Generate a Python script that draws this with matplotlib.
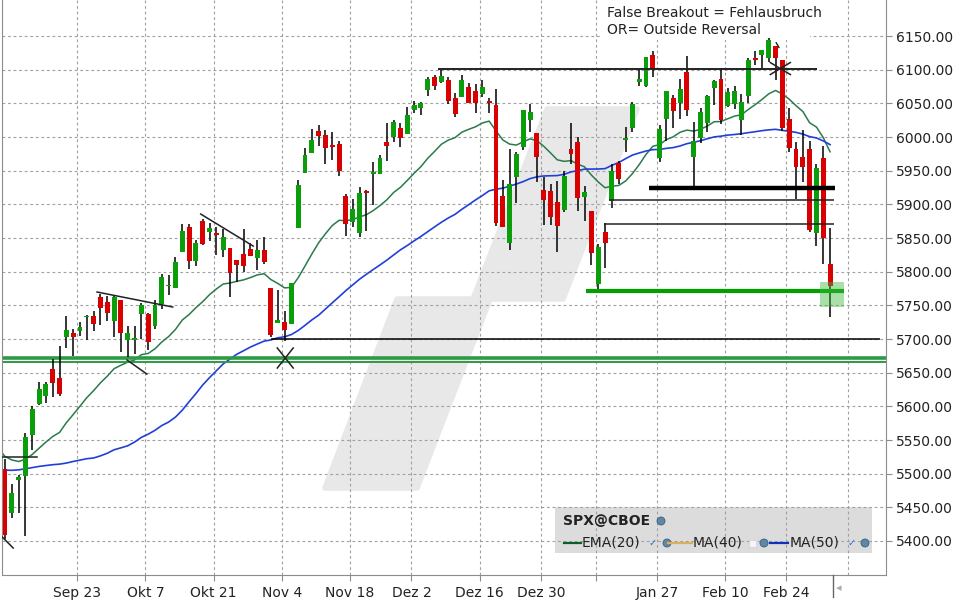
import numpy as np
import pandas as pd
import matplotlib
matplotlib.use("Agg")
import matplotlib.pyplot as plt
from matplotlib.patches import Rectangle, Polygon, Ellipse

# SPX daily candles, 6 Sep 2024 - 4 Mar 2025
dates = ["2024-09-06", "2024-09-09", "2024-09-10", "2024-09-11", "2024-09-12", "2024-09-13",
         "2024-09-16", "2024-09-17", "2024-09-18", "2024-09-19", "2024-09-20",
         "2024-09-23", "2024-09-24", "2024-09-25", "2024-09-26", "2024-09-27", "2024-09-30",
         "2024-10-01", "2024-10-02", "2024-10-03", "2024-10-04",
         "2024-10-07", "2024-10-08", "2024-10-09", "2024-10-10", "2024-10-11",
         "2024-10-14", "2024-10-15", "2024-10-16", "2024-10-17", "2024-10-18",
         "2024-10-21", "2024-10-22", "2024-10-23", "2024-10-24", "2024-10-25",
         "2024-10-28", "2024-10-29", "2024-10-30", "2024-10-31", "2024-11-01",
         "2024-11-04", "2024-11-05", "2024-11-06", "2024-11-07", "2024-11-08",
         "2024-11-11", "2024-11-12", "2024-11-13", "2024-11-14", "2024-11-15",
         "2024-11-18", "2024-11-19", "2024-11-20", "2024-11-21", "2024-11-22",
         "2024-11-25", "2024-11-26", "2024-11-27", "2024-11-29",
         "2024-12-02", "2024-12-03", "2024-12-04", "2024-12-05", "2024-12-06",
         "2024-12-09", "2024-12-10", "2024-12-11", "2024-12-12", "2024-12-13",
         "2024-12-16", "2024-12-17", "2024-12-18", "2024-12-19", "2024-12-20",
         "2024-12-23", "2024-12-24", "2024-12-26", "2024-12-27", "2024-12-30", "2024-12-31",
         "2025-01-02", "2025-01-03", "2025-01-06", "2025-01-07", "2025-01-08", "2025-01-10",
         "2025-01-13", "2025-01-14", "2025-01-15", "2025-01-16", "2025-01-17",
         "2025-01-21", "2025-01-22", "2025-01-23", "2025-01-24",
         "2025-01-27", "2025-01-28", "2025-01-29", "2025-01-30", "2025-01-31",
         "2025-02-03", "2025-02-04", "2025-02-05", "2025-02-06", "2025-02-07",
         "2025-02-10", "2025-02-11", "2025-02-12", "2025-02-13", "2025-02-14",
         "2025-02-18", "2025-02-19", "2025-02-20", "2025-02-21",
         "2025-02-24", "2025-02-25", "2025-02-26", "2025-02-27", "2025-02-28",
         "2025-03-03", "2025-03-04"]

opens = [5507.33, 5442.07, 5490.51, 5496.42, 5557.48, 5603.34, 5615.21, 5655.51, 5641.68, 5702.63, 5709.59,
         5711.90, 5732.30, 5733.65, 5762.22, 5755.36, 5726.52, 5757.73, 5698.19, 5698.56, 5737.80,
         5737.80, 5719.14, 5751.80, 5778.36, 5775.09, 5829.81, 5866.74, 5816.58, 5875.62, 5859.43,
         5857.82, 5832.70, 5834.50, 5817.80, 5826.75, 5833.93, 5819.68, 5832.65, 5775.34, 5723.22,
         5725.15, 5722.43, 5864.89, 5947.21, 5976.76, 6008.86, 6003.60, 5985.75, 5989.68, 5912.79,
         5874.17, 5857.30, 5917.26, 5944.36, 5944.36, 5992.28, 6000.03, 6014.11, 6003.98,
         6040.11, 6042.97, 6069.39, 6089.03, 6081.38, 6083.99, 6057.59, 6060.15, 6074.29, 6068.17,
         6063.79, 6052.55, 6047.65, 5912.71, 5842.00, 5940.25, 5984.63, 6024.97, 6006.17, 5920.67, 5919.74,
         5903.26, 5891.07, 5982.81, 5993.26, 5910.66, 5890.66, 5782.35, 5859.44, 5905.21, 5961.98, 5995.31,
         6014.12, 6081.39, 6076.32, 6121.43, 5969.04, 6026.97, 6057.70, 6050.75, 6096.79,
         5969.65, 5998.14, 6020.45, 6072.22, 6086.33, 6046.40, 6049.32, 6025.08, 6060.59, 6115.52,
         6121.60, 6117.76, 6134.50, 6114.82, 6026.69, 5982.73, 5970.87, 5981.88, 5856.74,
         5968.33, 5811.98]

highs = [5522.47, 5484.20, 5497.91, 5560.41, 5600.71, 5636.27, 5636.05, 5670.81, 5689.75, 5733.57, 5715.14,
         5725.36, 5735.32, 5741.03, 5767.37, 5763.78, 5765.14, 5757.73, 5719.14, 5718.78, 5753.00,
         5739.34, 5757.60, 5796.80, 5795.03, 5822.13, 5871.41, 5870.36, 5846.52, 5878.46, 5872.17,
         5866.92, 5863.04, 5834.85, 5817.80, 5862.82, 5842.92, 5847.19, 5850.94, 5775.34, 5772.88,
         5741.43, 5783.44, 5936.14, 5983.84, 6012.45, 6017.31, 6009.92, 6008.19, 5993.88, 5915.25,
         5908.12, 5925.58, 5920.67, 5963.14, 5972.90, 6020.75, 6025.42, 6020.16, 6044.17,
         6053.58, 6052.07, 6089.84, 6092.35, 6099.97, 6088.51, 6065.40, 6092.59, 6079.68, 6078.58,
         6085.19, 6057.68, 6070.67, 5935.52, 5982.06, 5978.25, 6040.10, 6049.75, 6006.17, 5940.79, 5929.74,
         5935.09, 5949.34, 6021.04, 6000.68, 5927.89, 5890.66, 5841.54, 5871.92, 5960.61, 5964.69, 6014.96,
         6051.51, 6100.81, 6118.73, 6128.18, 6017.17, 6069.07, 6062.83, 6086.64, 6120.91,
         6022.13, 6042.48, 6062.86, 6084.03, 6101.28, 6073.38, 6076.28, 6063.85, 6116.91, 6127.47,
         6129.63, 6147.43, 6134.50, 6114.82, 6043.65, 5992.65, 6009.82, 5993.69, 5959.40,
         5986.09, 5865.08]

lows = [5402.62, 5434.49, 5441.72, 5406.96, 5535.50, 5601.65, 5604.53, 5614.05, 5615.08, 5686.42, 5674.49,
        5704.22, 5698.99, 5712.06, 5721.01, 5727.34, 5703.53, 5681.28, 5674.00, 5677.37, 5700.00,
        5683.66, 5714.56, 5745.02, 5764.76, 5775.09, 5829.81, 5804.48, 5808.34, 5840.25, 5846.11,
        5824.81, 5821.17, 5762.41, 5784.92, 5799.98, 5823.08, 5802.17, 5811.28, 5703.22, 5723.22,
        5696.51, 5722.10, 5864.89, 5947.21, 5976.76, 5986.69, 5960.08, 5965.91, 5942.28, 5853.01,
        5865.95, 5850.95, 5860.56, 5899.16, 5944.36, 5963.91, 5992.27, 5984.87, 6003.98,
        6035.33, 6033.39, 6061.06, 6070.05, 6079.98, 6048.63, 6029.89, 6060.15, 6051.25, 6035.77,
        6059.14, 6035.19, 5867.79, 5866.07, 5832.30, 5902.57, 5981.44, 6007.37, 5932.95, 5869.16, 5868.86,
        5829.53, 5888.66, 5960.01, 5890.68, 5874.78, 5809.22, 5773.31, 5805.36, 5894.73, 5930.78, 5978.44,
        6006.88, 6076.13, 6074.67, 6088.74, 5962.92, 5994.23, 6012.96, 6027.46, 6030.93,
        5923.93, 5990.87, 6007.06, 6046.83, 6019.96, 6044.84, 6042.34, 6003.00, 6050.57, 6107.62,
        6099.51, 6111.15, 6084.59, 6008.56, 5977.83, 5908.49, 5932.69, 5858.78, 5837.66,
        5810.91, 5732.59]

closes = [5408.42, 5471.05, 5495.52, 5554.13, 5595.76, 5626.02, 5633.09, 5634.58, 5618.26, 5713.64, 5702.55,
          5718.57, 5732.93, 5722.26, 5745.37, 5738.17, 5762.48, 5708.75, 5709.54, 5699.94, 5751.07,
          5695.94, 5751.13, 5792.04, 5780.05, 5815.03, 5859.85, 5815.26, 5842.47, 5841.47, 5864.67,
          5853.98, 5851.20, 5797.42, 5809.86, 5808.12, 5823.52, 5832.92, 5813.67, 5705.45, 5728.80,
          5712.69, 5782.76, 5929.04, 5973.10, 5995.54, 6001.35, 5983.99, 5985.38, 5949.17, 5870.62,
          5893.62, 5916.98, 5917.11, 5948.71, 5969.34, 5987.37, 6021.63, 5998.74, 6032.38,
          6047.15, 6049.88, 6086.49, 6075.11, 6090.27, 6052.85, 6034.91, 6084.19, 6051.25, 6051.09,
          6074.08, 6050.61, 5872.16, 5867.08, 5930.85, 5974.07, 6040.04, 6037.59, 5970.84, 5906.94, 5881.63,
          5868.55, 5942.47, 5975.38, 5909.03, 5918.25, 5827.04, 5836.22, 5842.91, 5949.91, 5937.34, 5996.66,
          6049.24, 6086.37, 6118.71, 6101.24, 6012.28, 6067.70, 6039.31, 6071.17, 6040.53,
          5994.57, 6037.88, 6061.48, 6083.57, 6025.99, 6066.44, 6068.50, 6051.97, 6115.07, 6114.63,
          6129.58, 6144.15, 6117.52, 6013.13, 5983.25, 5955.25, 5956.06, 5861.57, 5954.50,
          5849.72, 5778.15]

# closes before the visible window (24 Jun - 5 Sep 2024), needed for EMA(20) / MA(50)
warmup_close = [5447.87, 5469.30, 5477.90, 5482.87, 5460.48, 5475.09, 5509.01, 5537.02, 5567.19,
                5572.85, 5576.98, 5633.91, 5584.54, 5615.35, 5631.22, 5667.20, 5588.27, 5544.59,
                5505.00, 5564.41, 5555.74, 5427.13, 5399.22, 5459.10, 5463.54, 5436.44, 5522.30,
                5446.68, 5346.56, 5186.33, 5240.03, 5199.50, 5319.31, 5344.16, 5344.39, 5434.43,
                5455.21, 5543.22, 5554.25, 5608.25, 5597.12, 5620.85, 5570.64, 5634.61, 5616.84,
                5625.80, 5592.18, 5591.96, 5648.40, 5528.93, 5520.07, 5503.41]

tick_dates = ["2024-09-23", "2024-10-07", "2024-10-21", "2024-11-04", "2024-11-18", "2024-12-02",
              "2024-12-16", "2024-12-30", "2025-01-13", "2025-01-27", "2025-02-10", "2025-02-24"]
tick_labels = ["Sep 23", "Okt 7", "Okt 21", "Nov 4", "Nov 18", "Dez 2",
               "Dez 16", "Dez 30", "", "Jan 27", "Feb 10", "Feb 24"]

GREEN = "#0a9e0a"
RED = "#d80000"

o = np.array(opens); h = np.array(highs); l = np.array(lows); c = np.array(closes)
n = len(c)
x = np.arange(n)

allc = pd.Series(warmup_close + closes)
ema20 = allc.ewm(span=20, adjust=False).mean().values[-(n + 1):]
ma50 = allc.rolling(50).mean().values[-(n + 1):]
xm = np.arange(-1, n)

fig = plt.figure(figsize=(9.6, 6), dpi=100)
fig.patch.set_facecolor("white")
ax = fig.add_axes([2 / 960, 25 / 600, 884 / 960, 575 / 600])
ax.set_facecolor("none")


def gx(px):
    return px / 960


def gy(py):
    return 1 - py / 600


# watermark logo (figure pixels)
wm = [(325, 488), (397, 299), (473, 299), (547, 109), (637, 109), (563, 299), (490, 299), (417, 488)]
wm = [(gx(px), gy(py)) for px, py in wm]
fig.add_artist(Polygon(wm, closed=True, transform=fig.transFigure, facecolor="#e8e8e8",
                       edgecolor="#e8e8e8", lw=4, joinstyle="round", zorder=-2))

# legend panel
fig.add_artist(Rectangle((gx(555), gy(553)), 317 / 960, 46 / 600, transform=fig.transFigure,
                         facecolor="#dcdcdc", edgecolor="none", zorder=-1))

ax.set_xlim(-0.44, 129.2)
ax.set_ylim(5349.5, 6203.5)

# grid
tick_pos = [dates.index(d) - 0.4 for d in tick_dates] + [123.7]
for yv in np.arange(5400, 6151, 50):
    ax.axhline(yv, color="#a0a0a0", lw=0.8, ls=(0, (2.5, 2.5)), zorder=1)
for xv in tick_pos:
    ax.axvline(xv, color="#a0a0a0", lw=0.8, ls=(0, (2.5, 2.5)), zorder=1)

# white patch behind the note (hides grid, not candles)
ax.add_patch(Rectangle((gx(601), gy(40)), 209 / 960, 40 / 600, transform=fig.transFigure,
                       facecolor="white", edgecolor="none", zorder=1.5))

# moving averages
ax.plot(xm, ema20, color="#2a7a4a", lw=1.1, zorder=2)
ax.plot(xm, ma50, color="#2040d8", lw=1.2, zorder=2)

# candles
up = c >= o
body_lo = np.minimum(o, c)
body_h = np.maximum(np.abs(c - o), 2.5)
ax.vlines(x, l, h, color="black", lw=1.1, zorder=3)
ax.bar(x, body_h, bottom=body_lo, width=0.72, color=np.where(up, GREEN, RED), lw=0, zorder=4)

# drawn annotations
ax.axhline(5671.5, color="#2e9a45", lw=2.6, zorder=2)
ax.axhline(5666, color="#2e9a45", lw=1.4, zorder=2)
ax.hlines(5700, 39, 128.3, color="black", lw=1.1, zorder=5)
ax.hlines(6101, 63.5, 119.1, color="#222222", lw=1.4, zorder=5)
ax.hlines(5924, 94.5, 121.7, color="black", lw=3.2, zorder=5)
ax.hlines(5906, 88.6, 121.6, color="#222222", lw=1.1, zorder=5)
ax.hlines(5871, 87.9, 121.6, color="#222222", lw=1.1, zorder=5)
ax.hlines(5771, 85.2, 123.1, color="#00a000", lw=3, zorder=5)
ax.add_patch(Rectangle((119.5, 5747), 3.6, 38, facecolor="#40b840", alpha=0.45, lw=0, zorder=6))

ax.plot([13.5, 24.6], [5769.8, 5747.5], color="#222222", lw=1.1, zorder=5)
ax.plot([17.9, 20.8], [5668.8, 5648], color="#222222", lw=1.1, zorder=5)
ax.plot([28.7, 36.4], [5885.6, 5838], color="#222222", lw=1.1, zorder=5)
ax.plot([-0.7, 4.7], [5525, 5525], color="#222222", lw=1.1, zorder=5)
ax.plot([-0.7, 1.2], [5409, 5389.6], color="#222222", lw=1.1, zorder=5)
ax.plot([113.1, 113.5], [6140, 6133], color="#222222", lw=1, zorder=5)
# X marks (outside reversal)
for cx, cy, dx, dy in [(41.1, 5671.8, 1.17, 14.9), (113.7, 6101.7, 1.47, 8.9)]:
    ax.plot([cx - dx, cx + dx], [cy + dy, cy - dy], color="#222222", lw=1.1, zorder=6)
    ax.plot([cx - dx, cx + dx], [cy - dy, cy + dy], color="#222222", lw=1.1, zorder=6)

# axes styling
for s in ["left", "bottom", "right"]:
    ax.spines[s].set_color("#8c8c8c")
ax.spines["top"].set_visible(False)
ax.yaxis.tick_right()
ax.set_yticks(np.arange(5400, 6151, 50))
ax.set_yticklabels([f"{v:.2f}" for v in np.arange(5400, 6151, 50)])
ax.set_xticks(tick_pos[:-1])
ax.set_xticklabels(tick_labels)
ax.tick_params(axis="y", length=4, pad=3, labelsize=10, colors="#222222")
ax.tick_params(axis="x", length=4, pad=4, labelsize=10, colors="#222222")
ax.tick_params(axis="both", color="#8c8c8c")

# note text
fig.text(gx(607), gy(13), "False Breakout = Fehlausbruch", fontsize=10, va="center",
         color="#222222", zorder=10)
fig.text(gx(607), gy(30), "OR= Outside Reversal", fontsize=10, va="center",
         color="#222222", zorder=10)


# legend contents
def globe(px, py):
    fig.add_artist(Ellipse((gx(px), gy(py)), 8 / 960, 8 / 600, transform=fig.transFigure,
                           facecolor="#5f88a8", edgecolor="#3c5f7c", lw=0.6, zorder=10))


fig.text(gx(563), gy(521), "SPX@CBOE", fontsize=10, fontweight="bold", va="center", color="#222222")
globe(661, 521)
row = 543
for x0, x1, col, label, lx, mark, mx, gxp in [
        (564, 581, "#0b5d2a", "EMA(20)", 582, "check", 653, 667),
        (668, 692, "#d8b060", "MA(40)", 693, "box", 752, 764),
        (770, 788, "#1030c0", "MA(50)", 790, "check", 852, 865)]:
    fig.add_artist(plt.Line2D([gx(x0), gx(x1)], [gy(row), gy(row)], transform=fig.transFigure,
                              color=col, lw=1.6, zorder=10))
    fig.text(gx(lx), gy(row), label, fontsize=10, va="center", color="#222222")
    if mark == "check":
        fig.text(gx(mx), gy(row), "\u2713", fontsize=7, va="center", ha="center", color="#2b6cd4",
                 fontweight="bold")
    else:
        fig.add_artist(Rectangle((gx(mx - 3.5), gy(row + 3.5)), 7 / 960, 7 / 600, transform=fig.transFigure,
                                 facecolor="#f4f4fa", edgecolor="#d0d0e0", lw=0.5, zorder=10))
    globe(gxp, row)

# scroll marker below the axis
fig.add_artist(plt.Line2D([gx(833), gx(833)], [gy(575), gy(597)], transform=fig.transFigure,
                          color="#666666", lw=1))
fig.text(gx(839), gy(588), "\u25c2", fontsize=8, va="center", ha="center", color="#aaaaaa")

fig.savefig("out.png", dpi=100)
